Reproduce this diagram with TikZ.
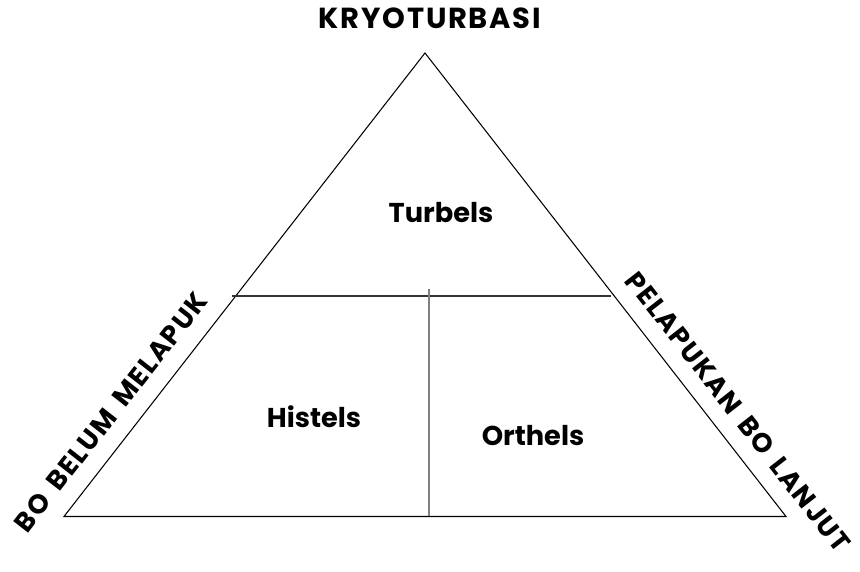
\documentclass[tikz,border=0pt]{standalone}
\usepackage{fontspec}
\setmainfont{Poppins}
\newfontfamily\capsfont[LetterSpace=6,WordSpace=1.6]{Poppins}
\usepackage{tikz}
\usetikzlibrary{positioning,calc}
\usepackage{xcolor}

\begin{document}
\begin{tikzpicture}[font=\bfseries\fontsize{15.5}{18}\selectfont,side/.style={line width=0.6pt},
  edge label/.style={font=\capsfont\bfseries\fontsize{16.5}{18}\selectfont},
  slope label/.style={font=\capsfont\bfseries\fontsize{15.3}{18}\selectfont}]
\useasboundingbox (0,0) rectangle (17.2,11.44);
\coordinate (top) at (8.50,10.38);
\coordinate (bl) at (1.28,1.11);
\coordinate (br) at (15.72,1.11);
\draw[side] (top) -- (bl) -- (br) -- cycle;
\coordinate (hl) at (4.64,5.52);
\coordinate (hr) at (12.22,5.52);
\coordinate (vt) at (8.58,5.66);
\coordinate (vb) at (8.58,1.11);
\draw[side,black!80] (hl) -- (hr);
\draw[side,gray] (vt) -- (vb);
\node[edge label] (kryo) at (8.60,11.08) {KRYOTURBASI};
\node (turb) at (8.82,7.18) {Turbels};
\node (hist) at (6.28,3.10) {Histels};
\node (orth) at (10.66,2.72) {Orthels};
\node[slope label,rotate=52] (belum) at (2.22,3.20) {BO BELUM MELAPUK};
\node[slope label,rotate=-52] (lanjut) at (14.76,3.20) {PELAPUKAN BO LANJUT};
\end{tikzpicture}
\end{document}
